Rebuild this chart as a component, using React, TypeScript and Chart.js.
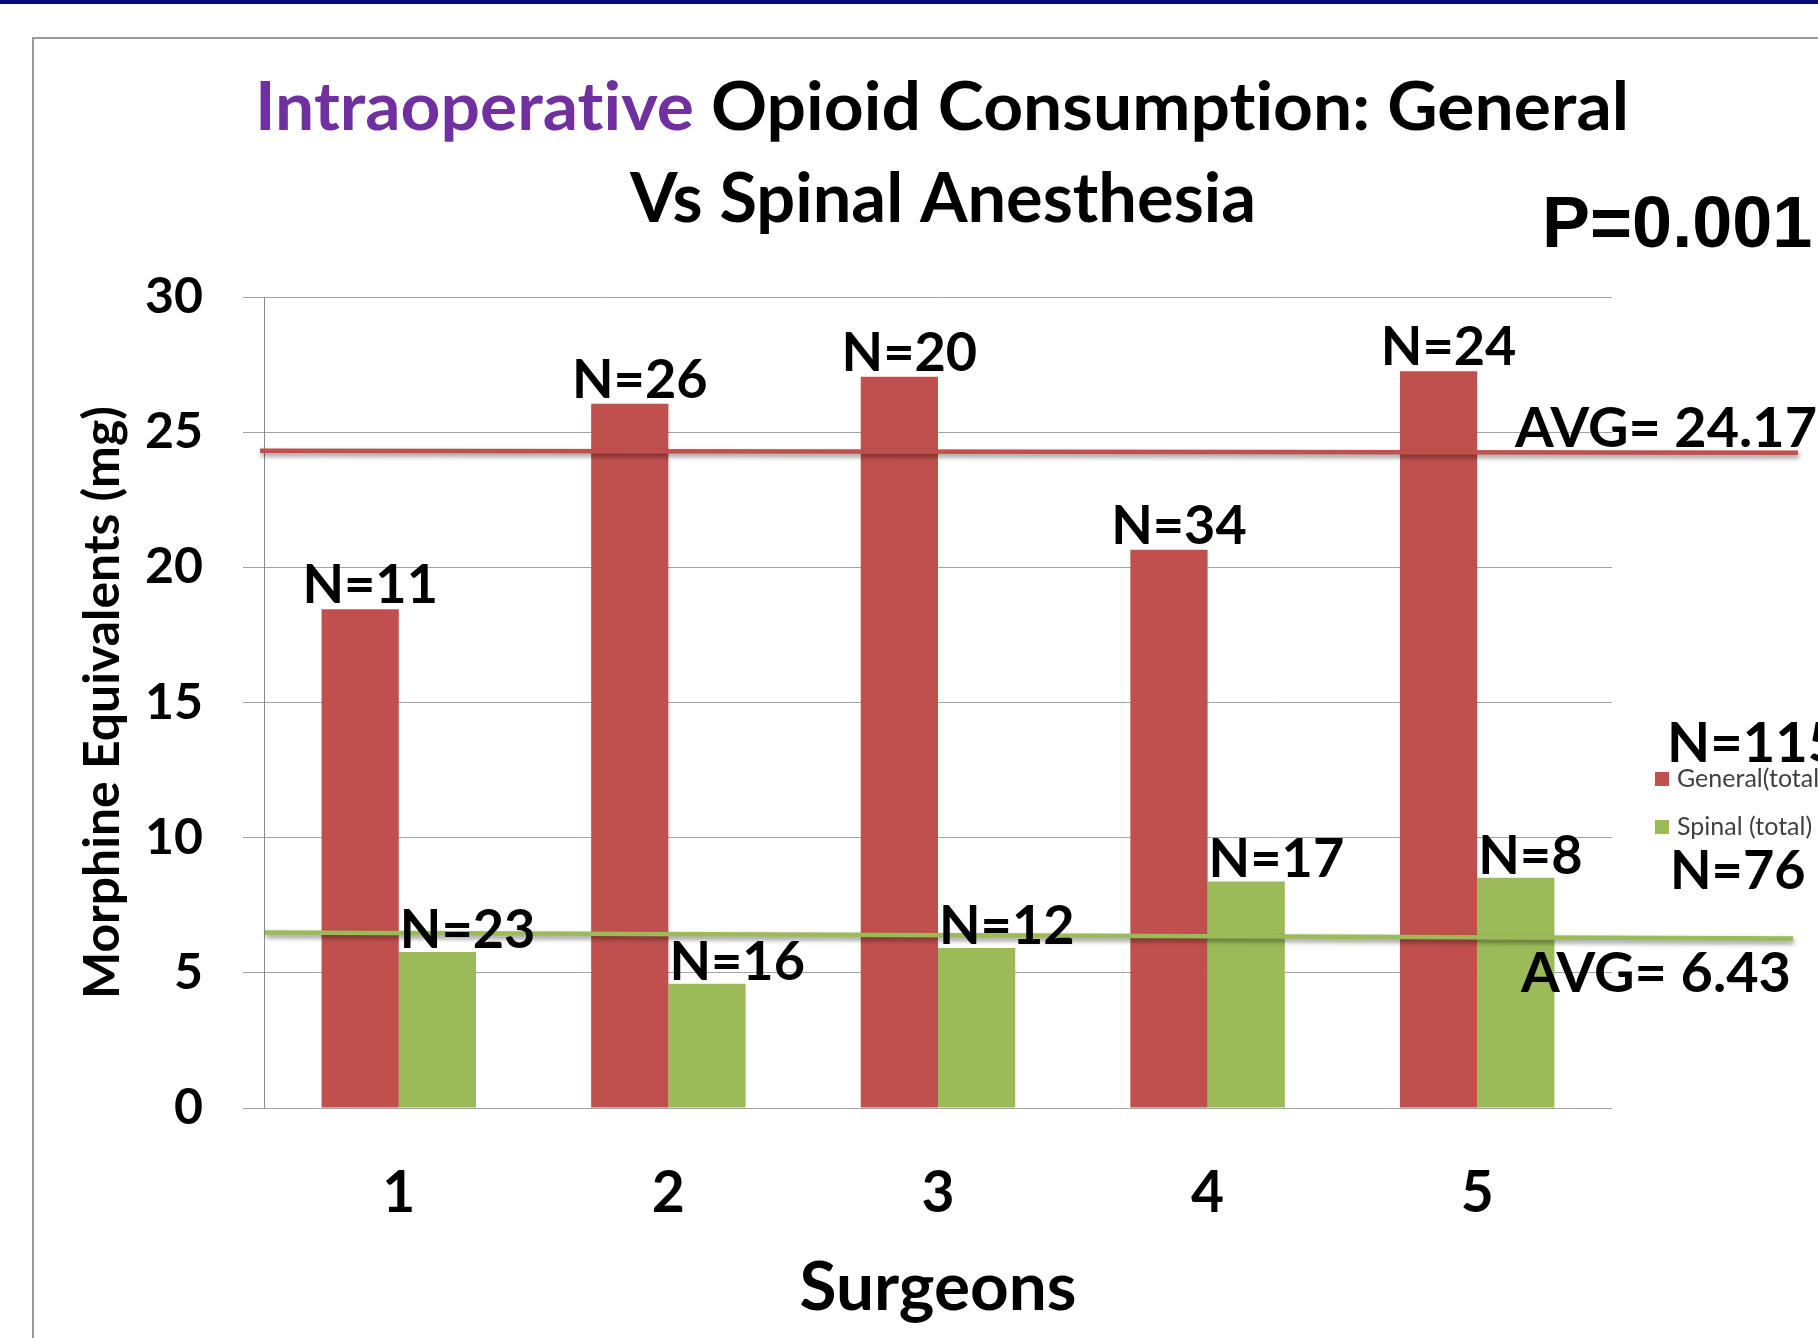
import React, { useEffect, useRef } from 'react';
import { Chart, registerables } from 'chart.js';

Chart.register(...registerables);

// ---------- data ----------
const surgeons = ['1', '2', '3', '4', '5'];
const generalValues = [18.45, 26.05, 27.05, 20.65, 27.25];
const spinalValues = [5.77, 4.6, 5.92, 8.38, 8.52];
const generalN = [11, 26, 20, 34, 24];
const spinalN = [23, 16, 12, 17, 8];
const seriesLabels = ['General(total)', 'Spinal (total)'];
const seriesTotals = [115, 76];
const avgValues = [24.17, 6.43];
const avgLineStart = [24.31, 6.49];
const avgLineEnd = [24.24, 6.27];
const yTicks = [0, 5, 10, 15, 20, 25, 30];
const titleAccent = 'Intraoperative';
const titleRest = 'Opioid Consumption: General';
const titleLine2 = 'Vs Spinal Anesthesia';
const pValueText = 'P=0.001';
const yAxisTitle = 'Morphine Equivalents (mg)';
const xAxisTitle = 'Surgeons';

// ---------- style ----------
const W = 1818;
const H = 1338;
const RED = '#c0504d';
const GREEN = '#9bbb59';
const PURPLE = '#7030a0';
const LATO = 'Lato, "Open Sans", sans-serif';

function ctxWidth(ctx: CanvasRenderingContext2D, text: string, font: string) {
  ctx.save();
  ctx.font = font;
  (ctx as any).letterSpacing = '0.01px';
  const w = ctx.measureText(text).width;
  ctx.restore();
  return w;
}

function drawText(
  ctx: CanvasRenderingContext2D,
  text: string,
  x: number,
  y: number,
  font: string,
  color: string,
  align: 'left' | 'center' | 'right' = 'left',
  width?: number
) {
  ctx.save();
  ctx.font = font;
  (ctx as any).letterSpacing = '0.01px';
  ctx.fillStyle = color;
  ctx.textBaseline = 'alphabetic';
  ctx.textAlign = 'left';
  const m = ctx.measureText(text).width;
  const sx = width ? width / m : 1;
  const w = m * sx;
  const left = align === 'center' ? x - w / 2 : align === 'right' ? x - w : x;
  ctx.translate(left, y);
  ctx.scale(sx, 1);
  ctx.fillText(text, 0, 0);
  ctx.restore();
}

const decorPlugin = {
  id: 'decor',
  beforeDraw(chart: any) {
    const ctx: CanvasRenderingContext2D = chart.ctx;
    ctx.save();
    ctx.fillStyle = '#ffffff';
    ctx.fillRect(0, 0, W, H);
    ctx.fillStyle = '#0a0a7e';
    ctx.fillRect(0, 0, W, 4);
    ctx.fillStyle = '#9a9a9a';
    ctx.fillRect(32, 37, W - 32, 2);
    ctx.fillRect(32, 37, 2, H - 37);
    ctx.restore();

    // Title line 1 (two colours), fitted to width
    const f1 = `bold 66px ${LATO}`;
    const full = titleAccent + ' ' + titleRest;
    const sx = 1374 / ctxWidth(ctx, full, f1);
    const accentW = ctxWidth(ctx, titleAccent + ' ', f1) * sx;
    drawText(ctx, titleAccent, 255, 130, f1, PURPLE, 'left', ctxWidth(ctx, titleAccent, f1) * sx);
    drawText(ctx, titleRest, 255 + accentW, 130, f1, '#000', 'left', ctxWidth(ctx, titleRest, f1) * sx);
    drawText(ctx, titleLine2, 943, 222, `bold 68px ${LATO}`, '#000', 'center', 626);
    drawText(ctx, pValueText, 1542, 247, 'bold 72px "Liberation Sans", Arial, sans-serif', '#000', 'left');
  },
  afterDatasetsDraw(chart: any) {
    const ctx: CanvasRenderingContext2D = chart.ctx;
    const y = chart.scales.y;
    const area = chart.chartArea;

    // Average lines with shadow
    const lineColors = [RED, GREEN];
    const lineEnds = [area.right + 186, area.right + 181];
    const lineStarts = [area.left - 4, area.left + 1];
    for (let i = 0; i < avgValues.length; i++) {
      ctx.save();
      ctx.strokeStyle = lineColors[i];
      ctx.lineWidth = 4.5;
      ctx.lineCap = 'butt';
      ctx.shadowColor = 'rgba(0,0,0,0.45)';
      ctx.shadowBlur = 5;
      ctx.shadowOffsetX = 1;
      ctx.shadowOffsetY = 3;
      ctx.beginPath();
      ctx.moveTo(lineStarts[i], y.getPixelForValue(avgLineStart[i]));
      ctx.lineTo(lineEnds[i], y.getPixelForValue(avgLineEnd[i]));
      ctx.stroke();
      ctx.restore();
    }

    // N labels over bars
    const nFont = `bold 54px ${LATO}`;
    const metaG = chart.getDatasetMeta(0).data;
    const metaS = chart.getDatasetMeta(1).data;
    for (let i = 0; i < surgeons.length; i++) {
      const g = metaG[i];
      drawText(ctx, `N=${generalN[i]}`, g.x + 10, g.y - 6, nFont, '#000', 'center');
      const s = metaS[i];
      drawText(ctx, `N=${spinalN[i]}`, s.x - s.width / 2 + 1, s.y - 4, nFont, '#000', 'left');
    }

    // AVG labels
    const redEndY = y.getPixelForValue(avgLineEnd[0]);
    const greenEndY = y.getPixelForValue(avgLineEnd[1]);
    drawText(ctx, `AVG= ${avgValues[0]}`, 1515, redEndY - 6, `bold 56px ${LATO}`, '#000', 'left', 302);
    drawText(ctx, `AVG= ${avgValues[1]}`, 1521, greenEndY + 53, `bold 56px ${LATO}`, '#000', 'left', 270);

    // Legend
    const ds = chart.data.datasets;
    drawText(ctx, `N=${seriesTotals[0]}`, 1667, 762, `bold 56px ${LATO}`, '#000', 'left');
    const legendY = [772, 820];
    for (let i = 0; i < ds.length; i++) {
      ctx.save();
      ctx.fillStyle = ds[i].backgroundColor;
      ctx.fillRect(1655, legendY[i], 14, 14);
      ctx.restore();
      drawText(ctx, ds[i].label, 1677, legendY[i] + 15, `25px ${LATO}`, '#404040', 'left');
    }
    drawText(ctx, `N=${seriesTotals[1]}`, 1670, 889, `bold 54px ${LATO}`, '#000', 'left');

    // Axis titles
    ctx.save();
    ctx.translate(119, (area.top + area.bottom) / 2);
    ctx.rotate(-Math.PI / 2);
    drawText(ctx, yAxisTitle, 0, 0, `bold 49px ${LATO}`, '#000', 'center', 593);
    ctx.restore();
    drawText(ctx, xAxisTitle, (area.left + area.right) / 2, 1310, `bold 67px ${LATO}`, '#000', 'center', 277);
  },
};

export default function App() {
  const ref = useRef<HTMLCanvasElement>(null);
  useEffect(() => {
    if (!ref.current) return;
    const chart = new Chart(ref.current, {
      type: 'bar',
      data: {
        labels: surgeons,
        datasets: [
          { label: seriesLabels[0], data: generalValues, backgroundColor: RED, borderWidth: 0 },
          { label: seriesLabels[1], data: spinalValues, backgroundColor: GREEN, borderWidth: 0 },
        ],
      },
      options: {
        responsive: false,
        animation: false,
        devicePixelRatio: 1,
        layout: { padding: { top: 297, right: 206, left: 0, bottom: 0 } },
        datasets: { bar: { categoryPercentage: 0.573, barPercentage: 1 } },
        plugins: {
          legend: { display: false },
          title: { display: false },
          tooltip: { enabled: false },
        },
        scales: {
          x: {
            type: 'category',
            grid: { display: false },
            border: { display: false },
            ticks: {
              color: '#000',
              font: { family: LATO, size: 57, weight: 'bold' },
              padding: 43,
              maxRotation: 0,
            },
            afterFit: (s: any) => {
              s.height = 230;
            },
          },
          y: {
            min: 0,
            max: 30,
            afterBuildTicks: (s: any) => {
              s.ticks = yTicks.map((v) => ({ value: v }));
            },
            grid: { color: '#a3a3a3', lineWidth: 1, tickLength: 21, drawTicks: true },
            border: { display: true, color: '#8a8a8a', width: 1 },
            ticks: {
              color: '#000',
              font: { family: LATO, size: 50, weight: 'bold' },
              padding: 40,
            },
            afterFit: (s: any) => {
              s.width = 264;
            },
          },
        },
      },
      plugins: [decorPlugin],
    } as any);
    return () => chart.destroy();
  }, []);
  return (
    <div style={{ position: 'absolute', left: 0, top: 0, width: W, height: H, background: '#fff' }}>
      <canvas ref={ref} width={W} height={H} style={{ display: 'block', width: W, height: H }} />
    </div>
  );
}
